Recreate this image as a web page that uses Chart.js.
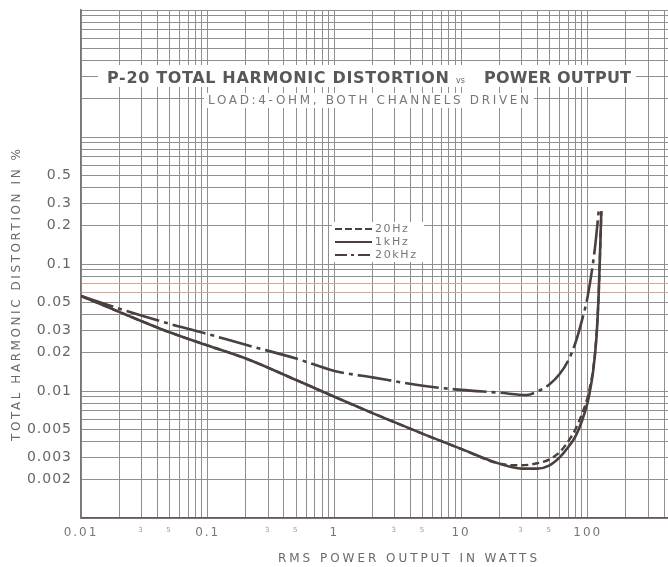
<!DOCTYPE html>
<html>
<head>
<meta charset="utf-8">
<script src="https://cdn.jsdelivr.net/npm/chart.js@4/dist/chart.umd.min.js"></script>
<style>
html,body{margin:0;padding:0;background:#fff;overflow:hidden}
canvas{display:block}
</style>
</head>
<body>
<canvas id="c" width="668" height="567"></canvas>
<script>
// ---------- data ----------
const seriesNames = ['20Hz', '1kHz', '20kHz'];

const power20Hz = [0.01, 0.02, 0.05, 0.1, 0.2, 0.5, 1, 2, 5, 10, 20, 30, 40, 50, 60, 70, 80, 90, 100, 105, 110, 117, 122, 128];
const thd20Hz   = [0.056, 0.042, 0.029, 0.0228, 0.018, 0.0122, 0.009, 0.0067, 0.0046, 0.0035, 0.00268, 0.0026, 0.0027, 0.0029, 0.0033, 0.0040, 0.0050, 0.0066, 0.009, 0.0112, 0.0145, 0.027, 0.058, 0.26];

const power1kHz = [0.01, 0.02, 0.05, 0.1, 0.2, 0.5, 1, 2, 5, 10, 20, 30, 40, 50, 60, 70, 80, 90, 100, 105, 110, 117, 122, 128];
const thd1kHz   = [0.056, 0.042, 0.029, 0.0228, 0.018, 0.0122, 0.009, 0.0067, 0.0046, 0.0035, 0.00268, 0.00245, 0.00245, 0.0026, 0.0030, 0.0036, 0.0044, 0.0058, 0.0082, 0.0105, 0.014, 0.026, 0.058, 0.26];

const power20kHz = [0.01, 0.02, 0.05, 0.1, 0.2, 0.5, 1, 2, 5, 10, 20, 33, 40, 50, 60, 70, 80, 90, 100, 114, 122];
const thd20kHz   = [0.056, 0.0445, 0.0338, 0.0281, 0.0231, 0.018, 0.0144, 0.0128, 0.011, 0.0102, 0.0097, 0.0093, 0.0099, 0.0113, 0.0136, 0.0173, 0.024, 0.036, 0.056, 0.134, 0.26];

const xLabelValues = [0.01, 0.03, 0.05, 0.1, 0.3, 0.5, 1, 3, 5, 10, 30, 50, 100];
const xLabelTexts  = ['0.01', '3', '5', '0.1', '3', '5', '1', '3', '5', '10', '3', '5', '100'];
const yLabelValues = [0.5, 0.3, 0.2, 0.1, 0.05, 0.03, 0.02, 0.01, 0.005, 0.003, 0.002];
const yLabelTexts  = ['0.5', '0.3', '0.2', '0.1', '0.05', '0.03', '0.02', '0.01', '0.005', '0.003', '0.002'];

const titleMain = 'P-20 TOTAL HARMONIC DISTORTION';
const titleVs = 'vs';
const titleEnd = 'POWER OUTPUT';
const subtitle = 'LOAD:4-OHM, BOTH CHANNELS DRIVEN';
const xTitle = 'RMS POWER OUTPUT IN WATTS';
const yTitle = 'TOTAL HARMONIC DISTORTION IN %';

// ---------- helpers ----------
const FONT = '"DejaVu Sans", "Liberation Sans", sans-serif';
const INK = '#4a403d';
const mantissas = [1, 2, 3, 4, 5, 6, 7, 8, 9];
function gridValues(minExp, maxExp, maxVal) {
  const out = [];
  for (let e = minExp; e <= maxExp; e++) {
    for (const m of mantissas) {
      const v = Number((m * Math.pow(10, e)).toPrecision(6));
      if (v <= maxVal + 1e-12) out.push(v);
    }
  }
  return out;
}
function findIdx(list, v) {
  return list.findIndex(l => Math.abs(Math.log10(l / v)) < 1e-6);
}
function pts(xs, ys) { return xs.map((x, i) => ({ x: x, y: ys[i] })); }

const X_MIN = 0.01, X_MAX = 430, Y_MIN = 0.001, Y_MAX = 10;
const xGrid = gridValues(-2, 2, X_MAX);
const yGrid = gridValues(-3, 0, Y_MAX).concat([10]);
const tinted = [0.06, 0.07];

function drawSpaced(ctx, text, x, y, width, font, color) {
  ctx.save();
  ctx.font = font;
  ctx.fillStyle = color;
  ctx.textAlign = 'left';
  ctx.textBaseline = 'middle';
  ctx.letterSpacing = '0px';
  const w = ctx.measureText(text).width;
  const ls = text.length > 1 ? (width - w) / (text.length - 1) : 0;
  ctx.letterSpacing = ls + 'px';
  ctx.fillText(text, x, y);
  ctx.restore();
}

const decorPlugin = {
  id: 'decor',
  afterLayout(chart) {
    const spec = [['x', '2px'], ['y', '1px']];
    for (const [id, ls] of spec) {
      const s = chart.scales[id];
      if (s && !s._lsPatched) {
        const orig = s.drawLabels;
        s.drawLabels = function (ca) {
          const c = this.ctx;
          c.save();
          c.letterSpacing = ls;
          orig.call(this, ca);
          c.restore();
        };
        s._lsPatched = true;
      }
    }
  },
  beforeDatasetsDraw(chart) {
    const ctx = chart.ctx;
    ctx.save();
    ctx.fillStyle = '#ffffff';
    ctx.fillRect(98, 65, 538, 22);   // title backing
    ctx.fillRect(204, 93, 330, 15);  // subtitle backing
    ctx.fillRect(332, 222, 92, 40);  // legend backing
    ctx.restore();
  },
  afterDraw(chart) {
    const ctx = chart.ctx;
    // Title
    drawSpaced(ctx, titleMain, 107, 79, 342, '600 16px ' + FONT, '#585858');
    ctx.save();
    ctx.font = '8px ' + FONT;
    ctx.fillStyle = '#666';
    ctx.textBaseline = 'middle';
    ctx.fillText(titleVs, 456, 81);
    ctx.restore();
    drawSpaced(ctx, titleEnd, 484, 79, 147, '600 16px ' + FONT, '#585858');
    // Subtitle
    drawSpaced(ctx, subtitle, 208, 100.5, 321, '12px ' + FONT, '#777');
    // Axis titles
    drawSpaced(ctx, xTitle, 278, 559, 259, '12px ' + FONT, '#6a6a6a');
    ctx.save();
    ctx.translate(17, 295);
    ctx.rotate(-Math.PI / 2);
    drawSpaced(ctx, yTitle, -146, 0, 292, '12px ' + FONT, '#6a6a6a');
    ctx.restore();
    // Legend (inside plot area)
    const rows = [229, 242, 255];
    chart.data.datasets.forEach((ds, i) => {
      const y = rows[i];
      ctx.save();
      ctx.strokeStyle = ds.borderColor;
      ctx.lineWidth = 2;
      ctx.setLineDash(ds.legendDash);
      ctx.beginPath();
      ctx.moveTo(335, y);
      ctx.lineTo(372, y);
      ctx.stroke();
      ctx.restore();
      drawSpaced(ctx, ds.label, 375, y, ds.label.length * 8.2, '11px ' + FONT, '#777');
    });
  }
};

const commonLine = {
  borderColor: INK,
  pointRadius: 0,
  pointHoverRadius: 0,
  showLine: true,
  fill: false,
  cubicInterpolationMode: 'monotone'
};

new Chart(document.getElementById('c'), {
  type: 'scatter',
  data: {
    datasets: [
      Object.assign({}, commonLine, {
        label: seriesNames[0], data: pts(power20Hz, thd20Hz),
        borderWidth: 2.4, borderDash: [7, 4], legendDash: [7, 3], order: 1
      }),
      Object.assign({}, commonLine, {
        label: seriesNames[1], data: pts(power1kHz, thd1kHz),
        borderWidth: 2.6, borderDash: [], legendDash: [], order: 2
      }),
      Object.assign({}, commonLine, {
        label: seriesNames[2], data: pts(power20kHz, thd20kHz),
        borderWidth: 2.6, borderDash: [34, 5, 4, 5], legendDash: [12, 4, 3, 4], order: 3
      })
    ]
  },
  options: {
    responsive: false,
    animation: false,
    events: [],
    layout: { padding: { left: 0, right: 0, top: 10, bottom: 0 } },
    plugins: { legend: { display: false }, tooltip: { enabled: false }, title: { display: false } },
    scales: {
      x: {
        type: 'logarithmic',
        position: 'bottom',
        min: X_MIN, max: X_MAX,
        bounds: 'data',
        afterBuildTicks: s => { s.ticks = xGrid.map(v => ({ value: v })); },
        afterFit: s => { s.height = 49; s.paddingLeft = 0; s.paddingRight = 0; },
        grid: {
          drawTicks: false,
          lineWidth: 1,
          color: () => '#8f8f8f'
        },
        border: { display: true, color: '#6e5654', width: 1.5 },
        ticks: {
          autoSkip: false, maxRotation: 0, minRotation: 0,
          padding: 8,
          color: c => {
            const i = c.tick ? findIdx(xLabelValues, c.tick.value) : -1;
            return (i >= 0 && xLabelTexts[i].length === 1 && xLabelTexts[i] !== '1') ? '#9a9a9a' : '#777';
          },
          font: c => {
            const i = c.tick ? findIdx(xLabelValues, c.tick.value) : -1;
            const small = i >= 0 && xLabelTexts[i].length === 1 && xLabelTexts[i] !== '1';
            return { family: FONT, size: small ? 7 : 12 };
          },
          callback: v => { const i = findIdx(xLabelValues, v); return i >= 0 ? xLabelTexts[i] : ''; }
        }
      },
      y: {
        type: 'logarithmic',
        position: 'left',
        min: Y_MIN, max: Y_MAX,
        bounds: 'data',
        afterBuildTicks: s => { s.ticks = yGrid.map(v => ({ value: v })); },
        afterFit: s => { s.width = 81; s.paddingTop = 0; s.paddingBottom = 0; },
        grid: {
          drawTicks: false,
          lineWidth: 1,
          color: c => (c.tick && findIdx(tinted, c.tick.value) >= 0) ? '#d6a48c' : '#8f8f8f'
        },
        border: { display: true, color: '#777', width: 1.5 },
        ticks: {
          autoSkip: false,
          padding: 9,
          color: '#666',
          font: { family: FONT, size: 14 },
          callback: v => { const i = findIdx(yLabelValues, v); return i >= 0 ? yLabelTexts[i] : ''; }
        }
      }
    }
  },
  plugins: [decorPlugin]
});
</script>
</body>
</html>
